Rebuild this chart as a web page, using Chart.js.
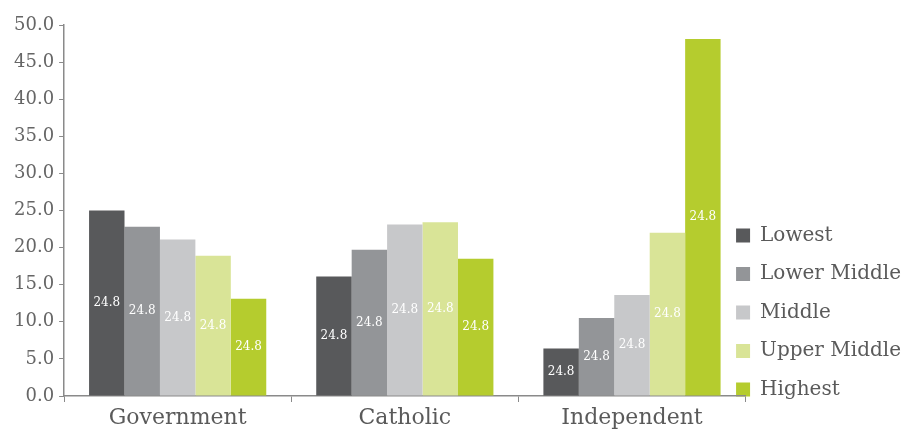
<!DOCTYPE html>
<html lang="en">
<head>
  <meta charset="UTF-8" />
  <title>School Sector by Income Group</title>
  <script src="https://cdn.jsdelivr.net/npm/chart.js"></script>
  <style>
    html, body { margin: 0; padding: 0; background: #fff; }
    #wrap { width: 909px; height: 430px; }
  </style>
</head>
<body>
  <div id="wrap"><canvas id="sectorChart"></canvas></div>

  <script>
    const sectors = ['Government', 'Catholic', 'Independent'];
    const groups = ['Lowest', 'Lower Middle', 'Middle', 'Upper Middle', 'Highest'];
    const lowest = [25.0, 16.1, 6.4];
    const lowerMiddle = [22.8, 19.7, 10.5];
    const middle = [21.1, 23.1, 13.6];
    const upperMiddle = [18.9, 23.4, 22.0];
    const highest = [13.1, 18.5, 48.1];
    const barText = ['24.8', '24.8', '24.8'];
    const yTicks = [0, 5, 10, 15, 20, 25, 30, 35, 40, 45, 50];

    const colors = ['#58595b', '#939598', '#c7c8ca', '#d9e497', '#b5cc2e'];
    const series = [lowest, lowerMiddle, middle, upperMiddle, highest];
    const serif = "'DejaVu Serif', serif";

    // writes the text label in the middle of every bar
    const barLabels = {
      id: 'barLabels',
      afterDatasetsDraw(chart) {
        const ctx = chart.ctx;
        ctx.save();
        ctx.font = '12px ' + serif;
        ctx.fillStyle = '#ffffff';
        ctx.textAlign = 'center';
        ctx.textBaseline = 'middle';
        chart.data.datasets.forEach((ds, i) => {
          chart.getDatasetMeta(i).data.forEach((bar, j) => {
            ctx.fillText(barText[j], bar.x, (bar.y + bar.base) / 2);
          });
        });
        ctx.restore();
      }
    };

    // let the legend reserve less room than it needs, then pull it
    // left/up so it tucks against the end of the x axis
    const legendTuck = {
      id: 'legendTuck',
      afterInit(chart) {
        const legend = chart.legend;
        const fit = legend.fit;
        legend.fit = function () {
          fit.call(this);
          this.width -= 30;
        };
      },
      afterLayout(chart) {
        const legend = chart.legend;
        legend.left = chart.chartArea.right - 28;
        legend.top -= 16;
        legend.bottom -= 16;
      }
    };

    new Chart(document.getElementById('sectorChart'), {
      type: 'bar',
      data: {
        labels: sectors,
        datasets: groups.map((g, i) => ({
          label: g,
          data: series[i],
          backgroundColor: colors[i],
          categoryPercentage: 0.78,
          barPercentage: 1.0
        }))
      },
      options: {
        responsive: true,
        maintainAspectRatio: false,
        animation: false,
        layout: { padding: { top: 25, left: 9, right: 0, bottom: -4 } },
        scales: {
          x: {
            grid: { drawOnChartArea: false, tickLength: 6, color: '#8a8a8a', offset: true },
            border: { color: '#8a8a8a', width: 1.5 },
            ticks: { color: '#5a5a5a', font: { family: serif, size: 22, lineHeight: 1 }, padding: 5 }
          },
          y: {
            min: 0,
            max: 50,
            afterBuildTicks(axis) {
              axis.ticks = yTicks.map(v => ({ value: v }));
            },
            grid: { drawOnChartArea: false, tickLength: 5, color: '#8a8a8a' },
            border: { color: '#8a8a8a', width: 1.5 },
            ticks: {
              color: '#666666',
              font: { family: serif, size: 18 },
              padding: 5,
              callback: v => v.toFixed(1)
            }
          }
        },
        plugins: {
          legend: {
            position: 'right',
            align: 'end',
            labels: {
              color: '#5a5a5a',
              font: { family: serif, size: 20 },
              boxWidth: 14,
              boxHeight: 14,
              padding: 18.5
            }
          },
          tooltip: { enabled: false }
        }
      },
      plugins: [barLabels, legendTuck]
    });
  </script>
</body>
</html>
